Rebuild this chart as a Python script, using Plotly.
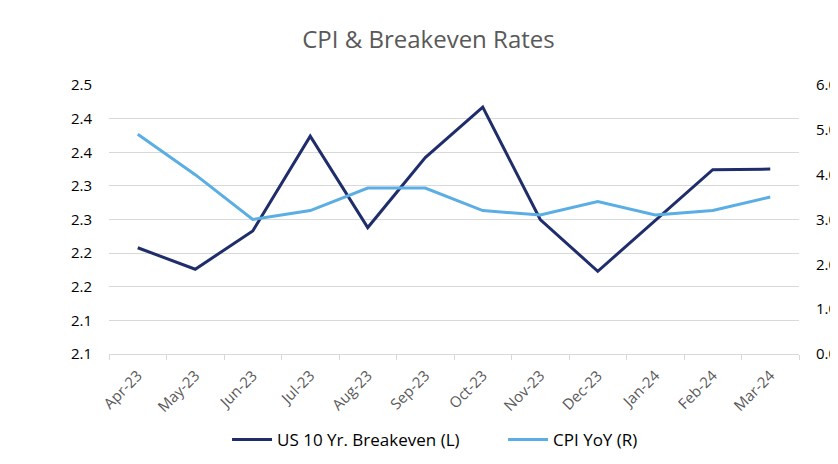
import plotly.graph_objects as go

months = ["Apr-23", "May-23", "Jun-23", "Jul-23", "Aug-23", "Sep-23",
          "Oct-23", "Nov-23", "Dec-23", "Jan-24", "Feb-24", "Mar-24"]
breakeven = [2.258, 2.226, 2.283, 2.424, 2.288, 2.392, 2.467, 2.300, 2.223, 2.299, 2.374, 2.375]
cpi_yoy = [4.9, 4.0, 3.0, 3.2, 3.7, 3.7, 3.2, 3.1, 3.4, 3.1, 3.2, 3.5]
left_ticks = [2.10, 2.15, 2.20, 2.25, 2.30, 2.35, 2.40, 2.45, 2.50]
left_labels = ["2.1", "2.1", "2.2", "2.2", "2.3", "2.3", "2.4", "2.4", "2.5"]
right_ticks = [0, 1, 2, 3, 4, 5, 6]
right_labels = ["0.0", "1.0", "2.0", "3.0", "4.0", "5.0", "6.0"]

DARK = "#1F2E6B"
LIGHT = "#5BAEE3"
FONT = "Open Sans"

fig = go.Figure()
fig.add_trace(go.Scatter(x=months, y=breakeven, name="US 10 Yr. Breakeven (L)",
                         mode="lines", line=dict(color=DARK, width=3), yaxis="y"))
fig.add_trace(go.Scatter(x=months, y=cpi_yoy, name="CPI YoY (R)",
                         mode="lines", line=dict(color=LIGHT, width=3), yaxis="y2"))

# page body has an 8px margin, so the figure is 8px smaller and shifted accordingly
fig.update_layout(
    width=830, height=456,
    margin=dict(l=101, r=39, t=77, b=110, autoexpand=False),
    paper_bgcolor="white", plot_bgcolor="white",
    font=dict(family=FONT, color="#000000"),
    title=dict(text="CPI & Breakeven Rates", x=0.5066, xanchor="center", xref="container",
               y=0.93, yanchor="middle", yref="container",
               font=dict(family=FONT, size=24, color="#595959")),
    xaxis=dict(type="category", range=[-0.5, 11.5], tickson="boundaries",
               ticks="outside", ticklen=5, tickcolor="#D9D9D9",
               showline=True, linecolor="#D9D9D9", linewidth=1,
               showgrid=False, tickangle=-45, automargin=False,
               ticklabelstandoff=6,
               tickfont=dict(family=FONT, size=15, color="#595959")),
    yaxis=dict(range=[2.10, 2.50], tickvals=left_ticks, ticktext=left_labels,
               showgrid=True, gridcolor="#D9D9D9", gridwidth=1,
               zeroline=False, showline=False, automargin=False,
               ticks="outside", ticklen=13, tickcolor="rgba(0,0,0,0)",
               tickfont=dict(family=FONT, size=15, color="#000000")),
    yaxis2=dict(range=[0, 6], tickvals=right_ticks, ticktext=right_labels,
                overlaying="y", side="right", showgrid=False,
                zeroline=False, showline=False, automargin=False,
                ticks="outside", ticklen=13, tickcolor="rgba(0,0,0,0)",
                tickfont=dict(family=FONT, size=15, color="#000000")),
    legend=dict(orientation="h", x=0.2639, xanchor="left", xref="container",
                y=0.0526, yanchor="middle", yref="container",
                font=dict(family=FONT, size=17, color="#000000"),
                itemwidth=40, entrywidth=221, bgcolor="rgba(0,0,0,0)"),
    showlegend=True,
)

fig.write_html("out.html")
